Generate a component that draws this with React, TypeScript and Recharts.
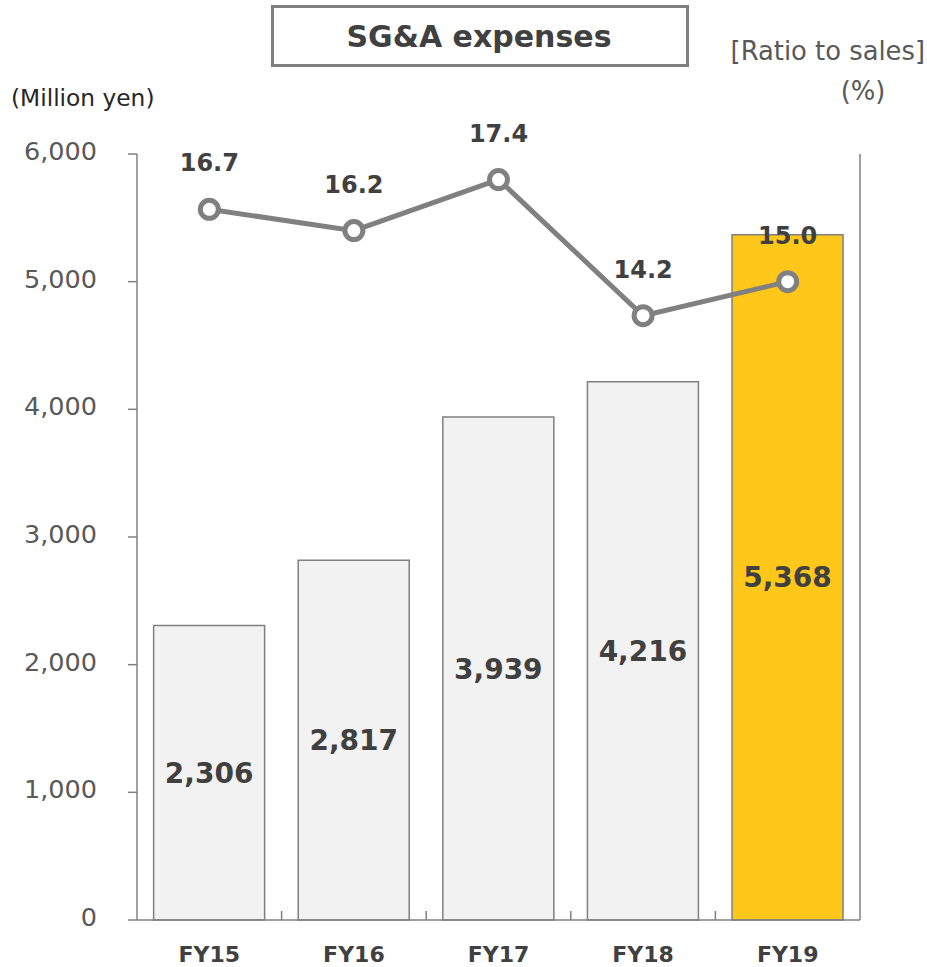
import React from 'react';
import {
  ComposedChart,
  Bar,
  Line,
  XAxis,
  YAxis,
  Cell,
  LabelList,
} from 'recharts';

const categories = ['FY15', 'FY16', 'FY17', 'FY18', 'FY19'];
const sgaExpenses = [2306, 2817, 3939, 4216, 5368];
const ratioToSales = [16.7, 16.2, 17.4, 14.2, 15.0];
const leftTicks = [0, 1000, 2000, 3000, 4000, 5000, 6000];
const rightTicks = [0, 18];

const data = categories.map((c, i) => ({
  name: c,
  sga: sgaExpenses[i],
  ratio: ratioToSales[i],
}));

const FONT = '"DejaVu Sans", Verdana, sans-serif';
const AXIS_COLOR = '#808080';
const TEXT_DARK = '#404040';
const TEXT_TICK = '#595959';

const YTick = (props: any) => {
  const { x, y, payload } = props;
  return (
    <text
      x={x}
      y={y + 6}
      textAnchor="end"
      fontSize={25.5}
      fontFamily={FONT}
      fill={TEXT_TICK}
    >
      {Number(payload.value).toLocaleString('en-US')}
    </text>
  );
};

const XTick = (props: any) => {
  const { x, y, payload } = props;
  const off = payload && typeof payload.offset === 'number' ? payload.offset : 72.3;
  const bx = x - off;
  return (
    <g>
      {payload.index > 0 && (
        <line x1={bx} x2={bx} y1={y} y2={y - 9} stroke={AXIS_COLOR} strokeWidth={1.5} />
      )}
      <text
        x={x}
        y={y + 42}
        textAnchor="middle"
        fontSize={22}
        fontWeight="bold"
        fontFamily={FONT}
        fill={TEXT_DARK}
      >
        {payload.value}
      </text>
    </g>
  );
};

export default function App() {
  return (
    <div
      style={{
        position: 'absolute',
        left: 0,
        top: 0,
        width: 927,
        height: 967,
        background: '#fff',
        fontFamily: FONT,
      }}
    >
      <ComposedChart
        width={927}
        height={967}
        data={data}
        margin={{ top: 154, right: 0, bottom: 0, left: 0 }}
        barCategoryGap="11.5%"
      >
        <XAxis
          dataKey="name"
          height={47}
          axisLine={{ stroke: AXIS_COLOR, strokeWidth: 1.5 }}
          tickLine={false}
          tickSize={0}
          tickMargin={0}
          tick={<XTick />}
          interval={0}
        />
        <YAxis
          yAxisId="left"
          orientation="left"
          width={137}
          domain={[0, 6000]}
          ticks={leftTicks}
          interval={0}
          axisLine={{ stroke: AXIS_COLOR, strokeWidth: 1.5 }}
          tickLine={{ stroke: AXIS_COLOR, strokeWidth: 1.5 }}
          tickSize={9}
          tickMargin={31}
          tick={<YTick />}
        />
        <YAxis
          yAxisId="right"
          orientation="right"
          width={67}
          domain={[0, 18]}
          ticks={rightTicks}
          interval={0}
          axisLine={{ stroke: AXIS_COLOR, strokeWidth: 1.5 }}
          tickLine={{ stroke: AXIS_COLOR, strokeWidth: 1.5 }}
          tickSize={4}
          tick={false}
        />
        <Bar
          yAxisId="left"
          dataKey="sga"
          stroke={AXIS_COLOR}
          strokeWidth={1.5}
          isAnimationActive={false}
        >
          {data.map((d, i) => (
            <Cell key={d.name} fill={i === data.length - 1 ? '#FFC71A' : '#F2F2F2'} />
          ))}
          <LabelList
            dataKey="sga"
            position="center"
            formatter={(v: any) => Number(v).toLocaleString('en-US')}
            fill={TEXT_DARK}
            fontSize={28}
            fontWeight="bold"
            fontFamily={FONT}
          />
        </Bar>
        <Line
          yAxisId="right"
          type="linear"
          dataKey="ratio"
          stroke={AXIS_COLOR}
          strokeWidth={5}
          dot={{ r: 9, fill: '#fff', stroke: AXIS_COLOR, strokeWidth: 5 }}
          activeDot={false}
          isAnimationActive={false}
        >
          <LabelList
            dataKey="ratio"
            position="top"
            offset={38}
            formatter={(v: any) => Number(v).toFixed(1)}
            fill={TEXT_DARK}
            fontSize={24}
            fontWeight="bold"
            fontFamily={FONT}
          />
        </Line>
      </ComposedChart>
      <svg
        width={927}
        height={967}
        style={{ position: 'absolute', left: 0, top: 0, pointerEvents: 'none' }}
      >
        <rect x={272.5} y={6.5} width={415} height={59} fill="none" stroke={AXIS_COLOR} strokeWidth={3} />
        <text x={479} y={46.5} textAnchor="middle" fontSize={30} fontWeight="bold" fontFamily={FONT} fill={TEXT_DARK}>
          SG&amp;A expenses
        </text>
        <text x={11} y={106} fontSize={23.3} fontFamily={FONT} fill="#262626">
          (Million yen)
        </text>
        <text x={925} y={60} textAnchor="end" fontSize={25.8} fontFamily={FONT} fill={TEXT_TICK}>
          [Ratio to sales]
        </text>
        <text x={863} y={100} textAnchor="middle" fontSize={25.8} fontFamily={FONT} fill={TEXT_TICK}>
          (%)
        </text>
      </svg>
    </div>
  );
}
